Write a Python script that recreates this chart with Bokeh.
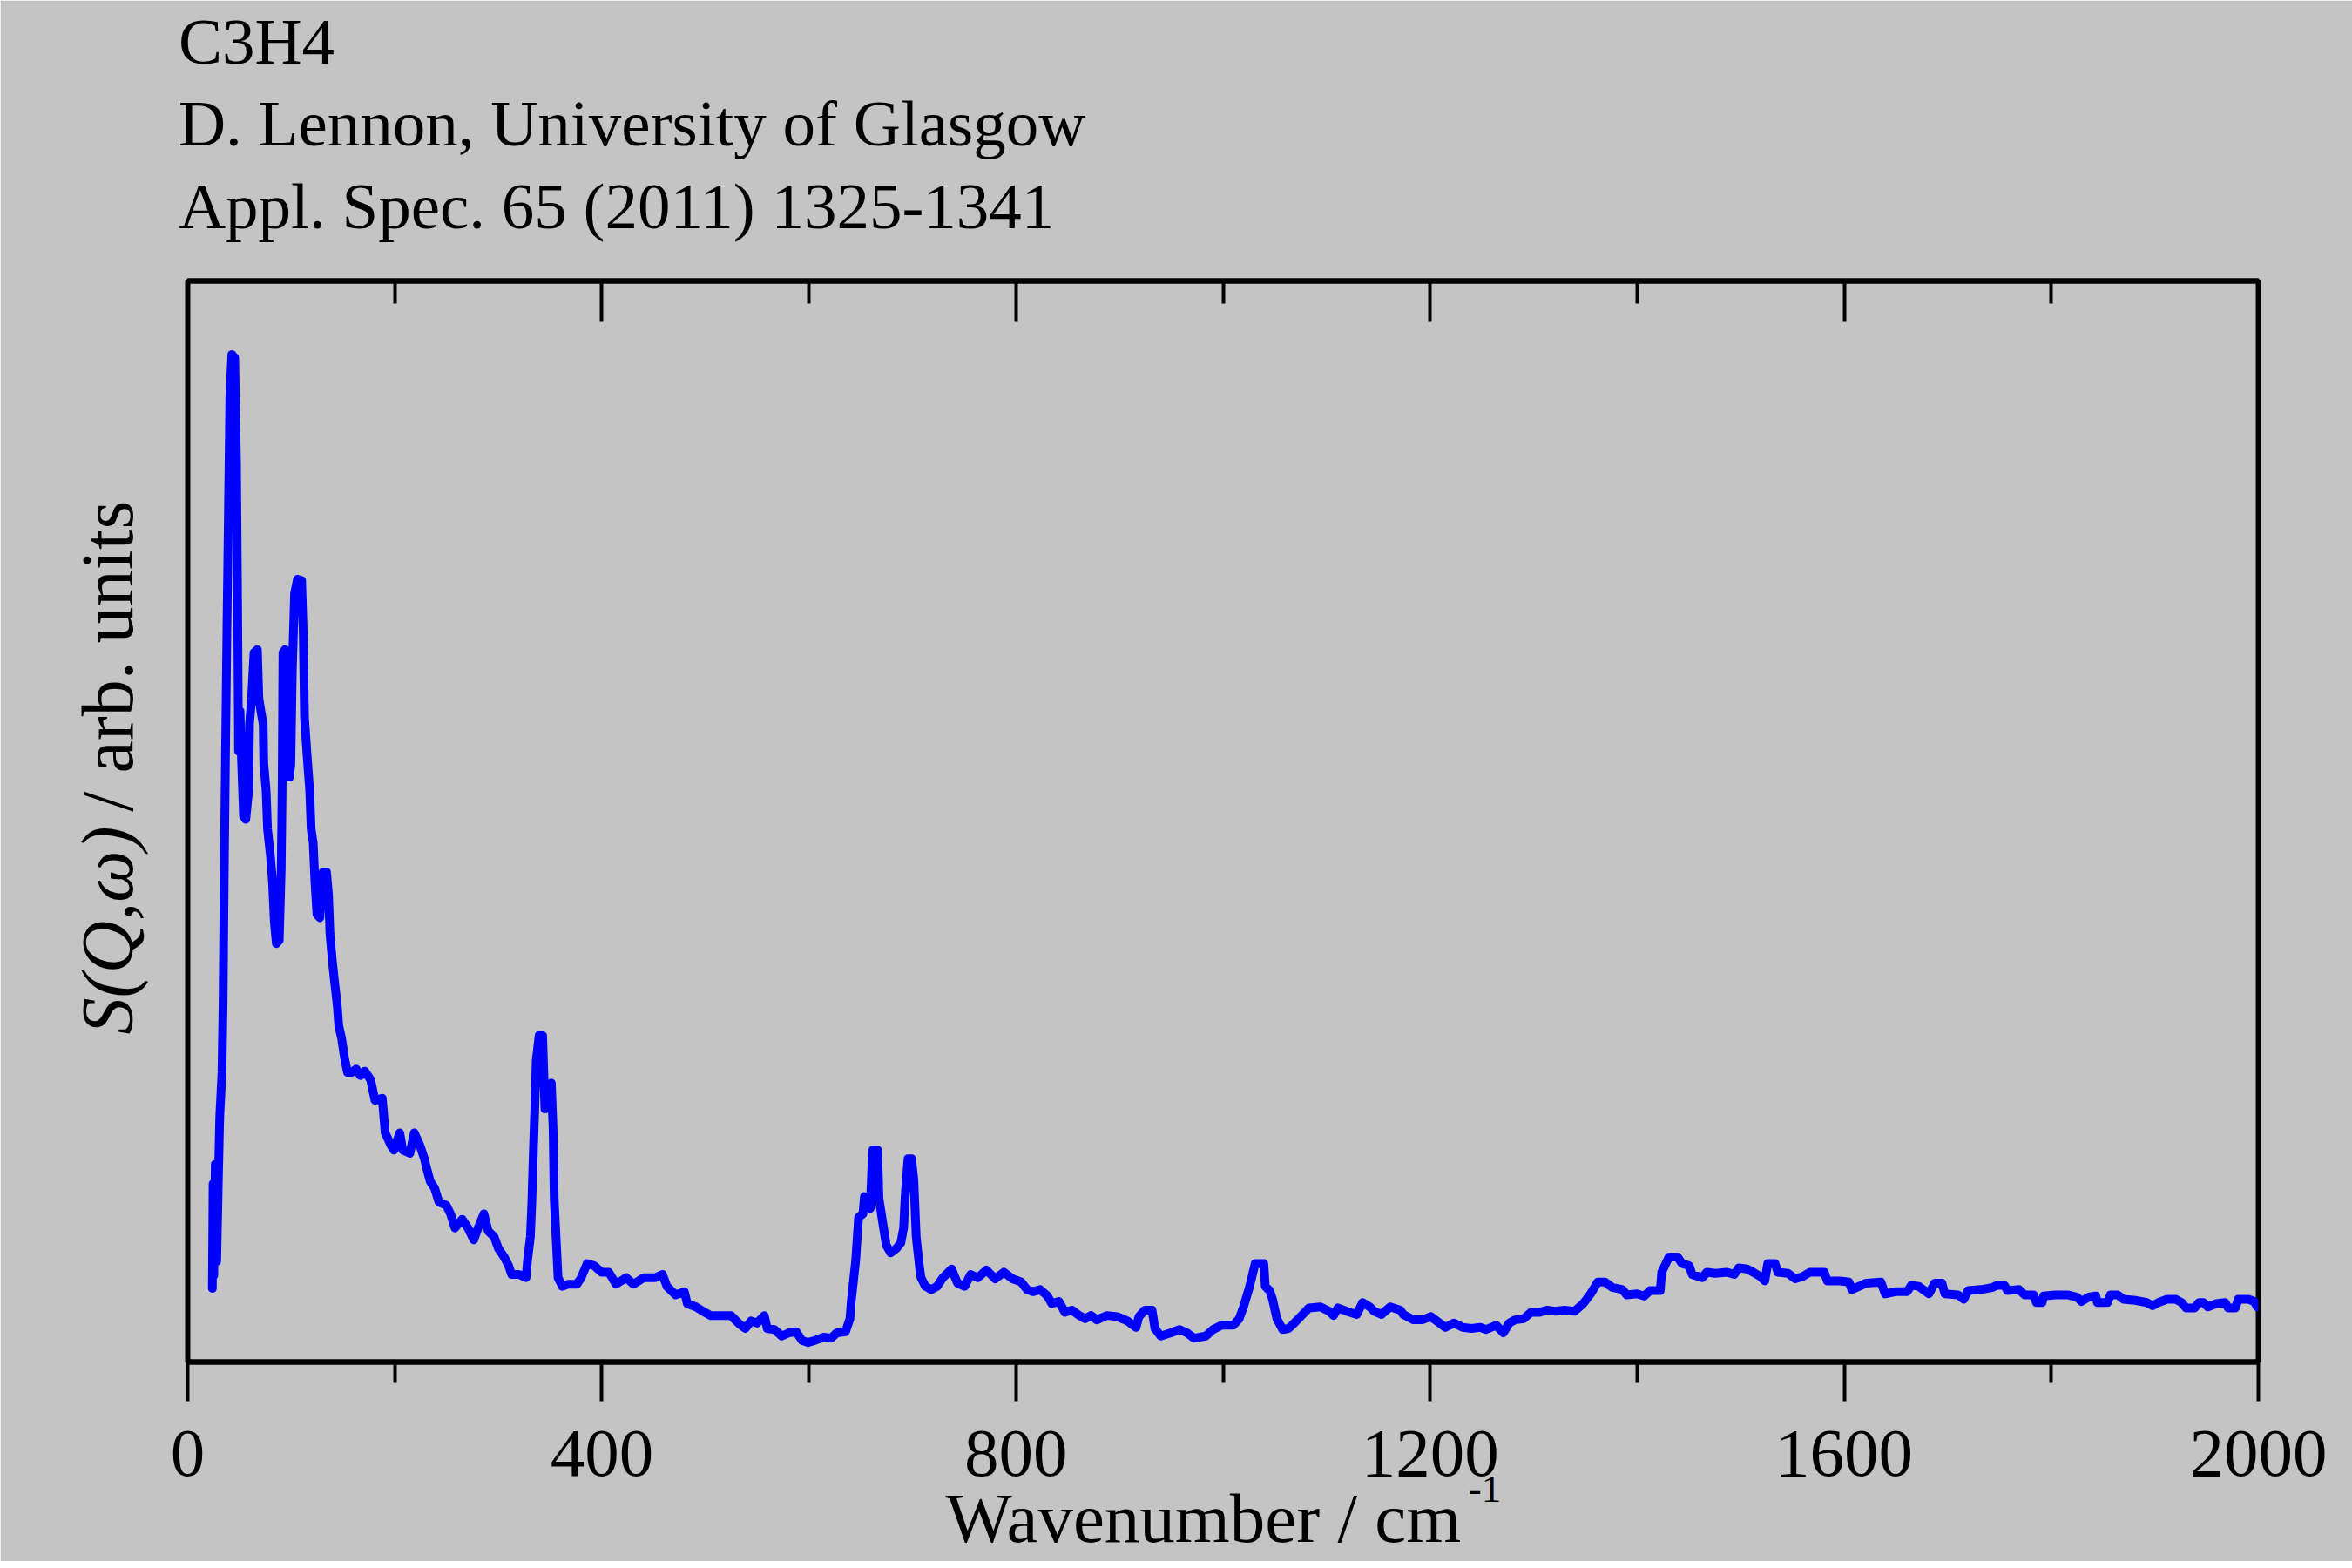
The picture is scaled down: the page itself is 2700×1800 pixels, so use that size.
import math
from bokeh.plotting import figure
from bokeh.models import Range1d, FixedTicker, LinearAxis, Label
from bokeh.embed import file_html
from bokeh.resources import INLINE

# ---------------- data ----------------
wavenumber = [
    23.8, 24.5, 25.2, 26.6, 28.0, 29.5, 30.9, 33.1, 34.2, 35.3, 36.5, 37.9, 39.3, 40.7, 42.6,
    45.4, 47.1, 48.2, 49.1, 50.5, 51.9, 53.9, 56.1, 58.9, 59.7, 61.7, 64.0, 67.3, 68.7, 70.7,
    72.9, 73.5, 75.7, 77.1, 79.9, 81.9, 83.6, 85.6, 88.4, 90.3, 91.2, 92.0, 94.0, 96.8, 98.2,
    99.6, 101.0, 103.2, 106.0, 110.0, 111.6, 112.8, 115.0, 117.8, 119.2, 121.2, 122.9, 124.8,
    127.6, 130.4, 134.1, 136.0, 137.4, 139.7, 141.7, 144.5, 145.9, 148.7, 151.5, 154.3, 158.5,
    162.7, 166.9,
    171.1, 176.7, 180.9, 187.9, 190.7, 196.4, 199.2, 204.8, 207.6, 214.6, 218.8, 224.4, 228.6,
    231.4, 234.2, 238.4, 242.6, 249.7, 253.9, 258.1, 265.1, 270.7, 276.3, 280.5, 286.1, 290.3,
    295.9, 300.1, 305.7, 310.0, 312.8, 319.8, 326.8, 328.2, 331.0, 332.4, 333.8, 335.2, 336.6,
    339.4, 342.8, 345.0, 347.8, 351.2, 352.9, 354.0, 356.2, 357.7, 361.8, 367.5, 375.9, 380.1,
    385.7, 392.7, 399.7, 406.7, 413.7, 423.5, 430.6, 440.4, 451.6, 458.6, 462.8, 471.2, 479.7,
    482.5, 490.9, 499.3, 504.9, 518.9,
    524.6, 533.0, 538.6, 544.2, 549.9, 556.9, 559.7, 566.7, 573.7, 580.7, 587.7, 593.3, 598.9,
    606.0, 614.4, 621.4, 627.0, 635.4, 639.6, 641.0, 645.2, 648.0, 652.2, 653.6, 659.2, 661.5,
    666.3, 667.7, 671.9, 674.7, 678.9, 684.5, 688.7, 691.5, 692.9, 695.7, 699.1, 701.3, 703.6,
    707.0, 708.3, 712.5, 718.2, 723.8, 729.4, 737.8, 743.4, 750.4, 756.2, 763.1, 771.5, 779.9,
    788.3, 796.7, 805.1, 810.7, 816.3, 823.4, 830.4, 834.6, 841.6, 847.2, 854.2, 861.2, 866.8,
    872.4,
    878.1, 887.9, 897.7, 907.6, 916.0, 918.8, 924.4, 931.4, 934.2, 939.8, 949.6, 958.1, 965.1,
    972.1, 983.3, 990.3, 998.7, 1009.9, 1015.6, 1019.8, 1025.4, 1031.0, 1039.4, 1040.8, 1045.0,
    1047.8, 1052.0, 1057.6, 1063.2, 1068.8, 1075.9, 1082.9, 1094.1, 1102.5, 1106.7, 1110.9,
    1119.3, 1129.2, 1134.8, 1141.8, 1146.0, 1153.0, 1161.4, 1171.2, 1174.1, 1183.9, 1192.3,
    1200.7, 1209.1, 1214.7, 1223.1, 1231.5, 1240.0, 1248.4, 1254.0, 1263.8, 1270.8, 1276.4,
    1282.0, 1290.4, 1297.4, 1305.9, 1312.9, 1321.3, 1329.7, 1339.5, 1347.9, 1355.0, 1362.0,
    1369.0, 1376.0, 1385.8, 1390.0, 1399.8, 1406.8, 1412.4, 1422.3, 1423.7, 1430.7, 1439.1,
    1443.3, 1450.3, 1453.1, 1463.0, 1467.2, 1475.6, 1486.8, 1493.8, 1498.0, 1506.4, 1512.1,
    1519.1, 1523.3, 1526.1, 1533.2, 1535.9, 1545.7, 1552.7, 1559.7, 1566.8, 1580.8, 1583.6,
    1596.2, 1604.6, 1607.4, 1614.4, 1621.4, 1635.4, 1639.6, 1649.5, 1660.7, 1664.9, 1671.9,
    1681.8, 1687.4, 1694.4, 1697.2, 1709.9, 1715.5, 1719.7, 1732.3, 1743.5, 1747.7, 1754.8,
    1757.6, 1768.8, 1774.4, 1782.8, 1785.6, 1791.2, 1792.6, 1803.8, 1816.5, 1824.9, 1829.1,
    1836.1, 1843.1, 1844.5, 1854.3, 1857.1, 1864.1, 1869.8, 1881.0, 1892.2, 1897.8, 1903.4,
    1911.8, 1920.3, 1925.9, 1930.1, 1938.5, 1942.7, 1946.9, 1951.1, 1959.5, 1968.0, 1970.8,
    1977.8, 1980.6, 1990.4, 1996.0, 1998.8,
]

intensity = [
    0.068, 0.165, 0.080, 0.183, 0.093, 0.165, 0.226, 0.268, 0.335, 0.456, 0.565, 0.680, 0.783, 0.893, 0.932,
    0.929, 0.832, 0.699, 0.565, 0.602, 0.559, 0.505, 0.502, 0.529, 0.590, 0.614, 0.656, 0.659, 0.614, 0.602,
    0.590, 0.553, 0.529, 0.493, 0.468, 0.444, 0.408, 0.387, 0.390, 0.456, 0.529, 0.656, 0.659, 0.656, 0.541,
    0.553, 0.638, 0.711, 0.724, 0.723, 0.674, 0.596, 0.565, 0.529, 0.493, 0.480, 0.444, 0.414,
    0.411, 0.453, 0.453, 0.432, 0.396, 0.371, 0.353, 0.329, 0.311, 0.299, 0.281, 0.268, 0.268,
    0.271, 0.265,
    0.269, 0.261, 0.242, 0.244, 0.212, 0.200, 0.196, 0.212, 0.196, 0.193, 0.212, 0.200, 0.188,
    0.177, 0.167, 0.161, 0.148, 0.145, 0.137, 0.124, 0.132, 0.124, 0.113, 0.124, 0.137, 0.121,
    0.116, 0.105, 0.097, 0.089, 0.081, 0.081, 0.078, 0.094, 0.116, 0.148, 0.193, 0.234, 0.279,
    0.302, 0.302, 0.234, 0.255, 0.258, 0.215, 0.150, 0.107, 0.078, 0.070, 0.072, 0.072, 0.078,
    0.091, 0.089, 0.083, 0.083, 0.072, 0.078, 0.072, 0.078, 0.078, 0.081, 0.070, 0.062, 0.065,
    0.054, 0.051, 0.046, 0.043, 0.043,
    0.043, 0.035, 0.031, 0.038, 0.036, 0.043, 0.031, 0.030, 0.024, 0.027, 0.028, 0.020, 0.018,
    0.020, 0.023, 0.022, 0.027, 0.028, 0.040, 0.057, 0.094, 0.134, 0.137, 0.153, 0.142, 0.196,
    0.196, 0.151, 0.125, 0.108, 0.101, 0.105, 0.110, 0.124, 0.153, 0.188, 0.188, 0.169, 0.116,
    0.086, 0.078, 0.070, 0.067, 0.070, 0.078, 0.086, 0.073, 0.070, 0.081, 0.078, 0.085, 0.077,
    0.083, 0.077, 0.074, 0.067, 0.065, 0.067, 0.061, 0.054, 0.056, 0.046, 0.048, 0.043, 0.040,
    0.043,
    0.039, 0.043, 0.042, 0.038, 0.032, 0.042, 0.048, 0.048, 0.031, 0.024, 0.027, 0.030, 0.027,
    0.022, 0.024, 0.030, 0.034, 0.034, 0.040, 0.051, 0.069, 0.091, 0.091, 0.070, 0.066,
    0.058, 0.040, 0.030, 0.031, 0.036, 0.043, 0.050, 0.051, 0.047, 0.043, 0.050,
    0.047, 0.044, 0.055, 0.051, 0.047, 0.044, 0.051, 0.048, 0.044, 0.039, 0.039,
    0.042, 0.036, 0.032, 0.036, 0.032, 0.031, 0.032, 0.030, 0.034, 0.027, 0.036,
    0.039, 0.040, 0.046, 0.046, 0.048, 0.047, 0.048, 0.047, 0.054, 0.063, 0.074,
    0.074, 0.069, 0.067, 0.062, 0.063, 0.061, 0.066, 0.066, 0.083, 0.097, 0.097,
    0.091, 0.089, 0.081, 0.078, 0.083, 0.082, 0.083, 0.081, 0.087, 0.086, 0.083,
    0.079, 0.075, 0.091, 0.091, 0.083, 0.082, 0.077, 0.079, 0.083, 0.083, 0.075,
    0.075, 0.074, 0.067, 0.070, 0.073, 0.074, 0.063, 0.065, 0.065, 0.071, 0.070,
    0.063, 0.073, 0.073, 0.063, 0.062, 0.058, 0.066, 0.067, 0.069, 0.071, 0.071,
    0.066, 0.067, 0.062, 0.062, 0.055, 0.055, 0.061, 0.062, 0.062, 0.060, 0.056,
    0.060, 0.061, 0.055, 0.055, 0.062, 0.062, 0.058, 0.057, 0.055, 0.052, 0.055,
    0.058, 0.058, 0.055, 0.050, 0.050, 0.055, 0.055, 0.051, 0.054, 0.055, 0.050,
    0.050, 0.058, 0.058, 0.056, 0.051,
]

major_ticks = [0, 400, 800, 1200, 1600, 2000]
minor_ticks = [200, 600, 1000, 1400, 1800]

title_lines = ["C3H4", "D. Lennon, University of Glasgow", "Appl. Spec. 65 (2011) 1325-1341"]
y_label_italic = "S(Q,\u03c9)"
y_label_rest = "/ arb. units"
x_label = "Wavenumber / cm"
x_label_sup = "-1"

# ---------------- styling ----------------
BG = "#c4c4c4"
FONT = "Liberation Serif"

p = figure(
    frame_width=2377, frame_height=1241,
    min_border_left=215, min_border_right=92, min_border_top=322, min_border_bottom=229,
    x_range=Range1d(0, 2000), y_range=Range1d(0, 1),
    output_backend="svg", toolbar_location=None, title=None,
    y_axis_location=None,
    background_fill_color=BG, border_fill_color=BG,
)
p.xgrid.visible = False
p.ygrid.visible = False
p.outline_line_color = "black"
p.outline_line_width = 6
p.outline_line_alpha = 1.0

ticker = FixedTicker(ticks=major_ticks, minor_ticks=minor_ticks)

xa = p.xaxis[0]
xa.ticker = ticker
xa.axis_line_width = 6
xa.axis_line_color = "black"
xa.major_tick_out = 45
xa.major_tick_in = 0
xa.minor_tick_out = 24
xa.minor_tick_in = 0
xa.major_tick_line_width = 4
xa.minor_tick_line_width = 4
xa.major_tick_line_color = "black"
xa.minor_tick_line_color = "black"
xa.major_label_text_font = FONT
xa.major_label_text_font_size = "79px"
xa.major_label_text_color = "black"
xa.major_label_standoff = 34

top = LinearAxis(ticker=ticker)
top.axis_line_width = 6
top.axis_line_color = "black"
top.major_tick_in = 47
top.major_tick_out = 0
top.minor_tick_in = 26
top.minor_tick_out = 0
top.major_tick_line_width = 4
top.minor_tick_line_width = 4
top.major_tick_line_color = "black"
top.minor_tick_line_color = "black"
top.major_label_text_alpha = 0
top.major_label_text_font_size = "1px"
top.major_label_standoff = 0
p.add_layout(top, "above")

p.line(wavenumber, intensity, line_color="#0000ff", line_width=10,
       line_join="round", line_cap="round")

# ---------------- texts (in side panels so they are not clipped) ----------------
title_y = [1.2216, 1.1459, 1.0693]
for txt, ty in zip(title_lines, title_y):
    p.add_layout(Label(x=-8.9, y=ty, text=txt, text_font=FONT, text_font_size="75px",
                       text_color="black", text_align="left", text_baseline="alphabetic"),
                 "above")

# superscript of the x label (placed in the top panel, drawn at its data position)
p.add_layout(Label(x=1237, y=-0.1177, text=x_label_sup, text_font=FONT, text_font_size="45px",
                   text_color="black", text_align="left", text_baseline="alphabetic"),
             "above")

p.add_layout(Label(x=-77.4, y=0.303, text=y_label_italic, angle=math.pi / 2,
                   text_font=FONT, text_font_size="84px", text_font_style="italic",
                   text_color="black", text_align="left", text_baseline="alphabetic"),
             "left")
p.add_layout(Label(x=-77.4, y=0.509, text=y_label_rest, angle=math.pi / 2,
                   text_font=FONT, text_font_size="84px",
                   text_color="black", text_align="left", text_baseline="alphabetic"),
             "left")

p.add_layout(Label(x=732, y=-0.1443, text=x_label, text_font=FONT, text_font_size="81px",
                   text_color="black", text_align="left", text_baseline="alphabetic"),
             "right")

open("out.html", "w").write(file_html(p, INLINE))
